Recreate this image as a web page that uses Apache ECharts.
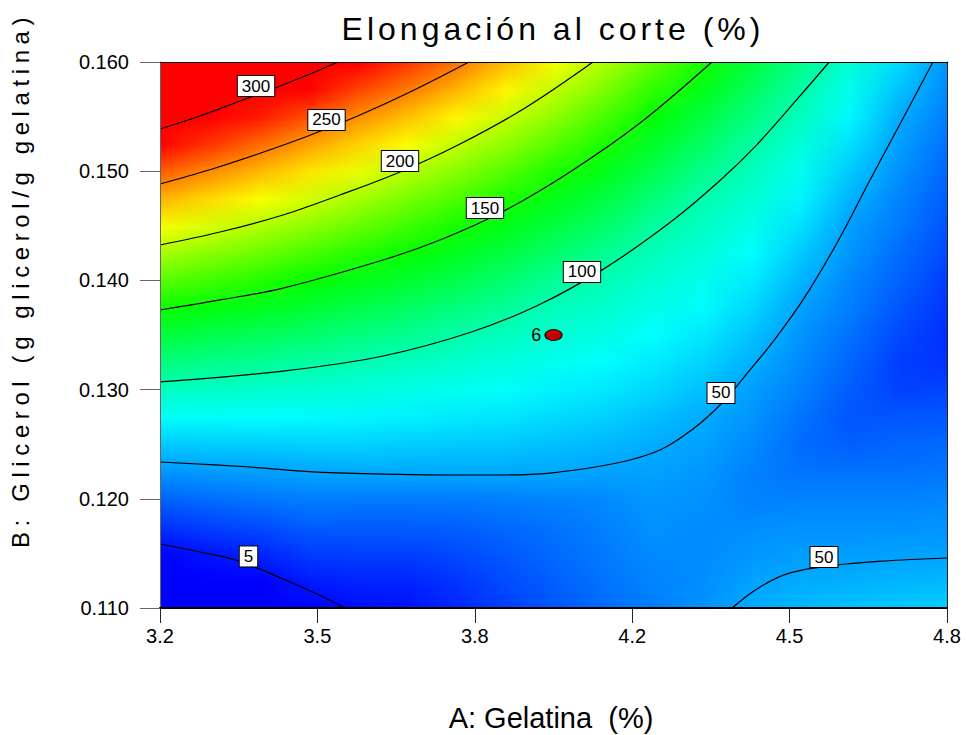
<!DOCTYPE html>
<html>
<head>
<meta charset="utf-8">
<script src="https://cdn.jsdelivr.net/npm/echarts@6/dist/echarts.min.js"></script>
<style>
html, body { margin: 0; padding: 0; background: #fff; }
#chart { width: 966px; height: 735px; }
#chart text { white-space: pre; }
</style>
</head>
<body>
<div id="chart"></div>
<script>
// ---------------- DATA ----------------
// A: Gelatina (%) grid nodes
const gelatina = [3.2, 3.3, 3.4, 3.5, 3.6, 3.7, 3.8, 3.9, 4.0, 4.1, 4.2, 4.3, 4.4, 4.5, 4.6, 4.7, 4.8];
// B: Glicerol grid nodes (bottom to top)
const glicerol = [0.110, 0.1125, 0.115, 0.1175, 0.120, 0.1225, 0.125, 0.1275, 0.130, 0.1325, 0.135,
                  0.1375, 0.140, 0.1425, 0.145, 0.1475, 0.150, 0.1525, 0.155, 0.1575, 0.160];
// Elongación al corte (%) read at each node; one row per glicerol value, one column per gelatina value
const elongacion = [
  [-25, -21, -13, -2, 4, 5, 12, 19, 26, 33, 38, 44, 52, 56, 59, 61, 63],
  [-12, -8, -1, 8, 11, 11, 16, 23, 29, 35, 40, 43, 49, 52, 53, 55, 56],
  [1, 6, 11, 18, 19, 19, 22, 27, 32, 37, 42, 42, 46, 48, 48, 49, 49],
  [15, 20, 23, 28, 28, 28, 29, 32, 35, 39, 44, 42, 43, 44, 44, 44, 45],
  [30, 33, 36, 38, 37, 37, 37, 39, 40, 42, 46, 44, 39, 40, 40, 40, 41],
  [45, 47, 48, 50, 51, 51, 51, 51, 51, 49, 49, 46, 39, 35, 35, 35, 36],
  [61, 62, 62, 63, 63, 62, 61, 60, 58, 56, 52, 49, 42, 33, 29, 31, 32],
  [78, 78, 77, 76, 75, 73, 71, 69, 66, 63, 58, 52, 45, 35, 26, 26, 27],
  [95, 93, 91, 89, 87, 84, 81, 78, 73, 70, 65, 58, 48, 39, 28, 20, 21],
  [114, 110, 107, 103, 99, 95, 91, 86, 81, 77, 71, 64, 53, 42, 31, 19, 15],
  [133, 128, 124, 119, 113, 108, 101, 95, 89, 84, 77, 70, 59, 45, 34, 22, 14],
  [152, 146, 141, 135, 128, 122, 114, 106, 96, 91, 83, 76, 65, 49, 38, 26, 16],
  [173, 166, 159, 150, 143, 136, 128, 118, 106, 98, 90, 82, 71, 54, 41, 30, 18],
  [194, 186, 178, 169, 159, 151, 141, 131, 119, 108, 96, 88, 77, 61, 45, 33, 22],
  [216, 207, 197, 187, 177, 166, 155, 143, 131, 120, 104, 94, 83, 68, 48, 37, 25],
  [238, 228, 217, 206, 194, 182, 170, 157, 143, 131, 115, 100, 90, 74, 54, 40, 28],
  [262, 249, 237, 225, 212, 198, 186, 172, 157, 143, 127, 110, 96, 81, 61, 44, 31],
  [287, 273, 258, 243, 230, 217, 201, 188, 172, 156, 138, 121, 103, 88, 68, 48, 34],
  [312, 297, 281, 265, 248, 235, 220, 203, 187, 169, 149, 132, 113, 95, 75, 52, 38],
  [339, 321, 305, 288, 269, 254, 238, 220, 201, 183, 162, 143, 123, 102, 82, 59, 41],
  [365, 346, 329, 311, 290, 273, 256, 236, 216, 196, 175, 155, 133, 111, 89, 66, 44]
];

// Contour lines [A, B]
const contorno300 = [[3.200, 0.15386], [3.2813, 0.15505], [3.3626, 0.15643], [3.4338, 0.15762], [3.5050, 0.15890], [3.5619, 0.16000]];
const contorno250 = [[3.200, 0.14883], [3.2996, 0.15011], [3.3992, 0.15158], [3.5009, 0.15322], [3.6066, 0.15515], [3.7083, 0.15725], [3.8282, 0.16000]];
const contorno200 = [[3.200, 0.14324], [3.3220, 0.14443], [3.4501, 0.14599], [3.5659, 0.14782], [3.6879, 0.14993], [3.8099, 0.15249], [3.9421, 0.15579], [4.0803, 0.16000]];
const contorno150 = [[3.200, 0.13729], [3.3220, 0.13821], [3.4501, 0.13930], [3.6534, 0.14187], [3.7692, 0.14370], [3.8953, 0.14626], [4.0335, 0.14993], [4.1758, 0.15441], [4.3222, 0.16000]];
const contorno100 = [[3.200, 0.13070], [3.4501, 0.13170], [3.6534, 0.13308], [3.8302, 0.13523], [3.9665, 0.13768], [4.1006, 0.14101], [4.2368, 0.14530], [4.3385, 0.14915], [4.4137, 0.15244], [4.5011, 0.15689], [4.5606, 0.16000]];
const contorno50a = [[3.200, 0.12337], [3.3830, 0.12291], [3.5192, 0.12245], [3.6879, 0.12223], [3.7896, 0.12218], [3.8912, 0.12218], [3.9929, 0.12236], [4.1291, 0.12328], [4.2165, 0.12447], [4.2836, 0.12639], [4.3426, 0.12877], [4.3995, 0.13180], [4.4503, 0.13463], [4.5072, 0.13821], [4.5764, 0.14343], [4.6435, 0.14919], [4.7045, 0.15432], [4.7715, 0.16000]];
const contorno50b = [[4.3629, 0.11000], [4.4198, 0.11192], [4.4808, 0.11321], [4.5764, 0.11394], [4.6699, 0.11430], [4.8000, 0.11458]];
const contorno5 = [[3.200, 0.11586], [3.2813, 0.11513], [3.3606, 0.11430], [3.4501, 0.11266], [3.5192, 0.11128], [3.5761, 0.11000]];

// Contour level labels
const etiquetaTexto = ['300', '250', '200', '150', '100', '50', '50', '5'];
const etiquetaA = [3.3952, 3.5385, 3.6879, 3.8607, 4.0579, 4.3405, 4.5499, 3.3799];
const etiquetaB = [0.15780, 0.15469, 0.15093, 0.14663, 0.14077, 0.12969, 0.11467, 0.11472];

// Design point (centre point, 6 replicates)
const puntoA = [4.0];
const puntoB = [0.135];
const puntoN = ['6'];

// Axis ticks
const ejeX = { min: 3.2, max: 4.8, interval: 0.32 };
const ejeY = { min: 0.110, max: 0.160, interval: 0.01 };

// ---------------- STYLE ----------------
const FONT = '"Liberation Sans", Arial, Helvetica, sans-serif';
const COLOR_VALUES = [0, 77, 150, 218, 288];
const COLOR_RGB = [[0, 0, 255], [0, 255, 255], [0, 255, 0], [255, 255, 0], [255, 0, 0]];

function colorRGB(v) {
  const s = COLOR_VALUES, c = COLOR_RGB;
  if (v <= s[0]) return c[0];
  if (v >= s[s.length - 1]) return c[c.length - 1];
  for (let k = 1; k < s.length; k++) {
    if (v <= s[k]) {
      const t = (v - s[k - 1]) / (s[k] - s[k - 1]);
      return [0, 1, 2].map(n => Math.round(c[k - 1][n] + (c[k][n] - c[k - 1][n]) * t));
    }
  }
  return c[c.length - 1];
}

// Raster of the node colours (one pixel per data node), scaled smoothly by the browser
const heatCache = {};
function heatImage(wPx, hPx) {
  const key = Math.round(wPx) + 'x' + Math.round(hPx);
  if (heatCache[key]) return heatCache[key];
  const nx = gelatina.length, ny = glicerol.length;
  const small = document.createElement('canvas');
  small.width = nx; small.height = ny;
  const sctx = small.getContext('2d');
  const img = sctx.createImageData(nx, ny);
  for (let j = 0; j < ny; j++) {
    for (let i = 0; i < nx; i++) {
      const rgb = colorRGB(elongacion[j][i]);
      const k = ((ny - 1 - j) * nx + i) * 4;
      img.data[k] = rgb[0]; img.data[k + 1] = rgb[1]; img.data[k + 2] = rgb[2]; img.data[k + 3] = 255;
    }
  }
  sctx.putImageData(img, 0, 0);
  const big = document.createElement('canvas');
  big.width = Math.max(1, Math.round(wPx)); big.height = Math.max(1, Math.round(hPx));
  const bctx = big.getContext('2d');
  bctx.imageSmoothingEnabled = true;
  bctx.drawImage(small, 0, 0, big.width, big.height);
  heatCache[key] = big.toDataURL('image/png');
  return heatCache[key];
}

const stepA = gelatina[1] - gelatina[0];
const stepB = glicerol[1] - glicerol[0];

const chart = echarts.init(document.getElementById('chart'), null, { renderer: 'svg', width: 966, height: 735 });

const contornos = [contorno300, contorno250, contorno200, contorno150, contorno100, contorno50a, contorno50b, contorno5];

const lineSeries = contornos.map(pts => ({
  type: 'line',
  data: pts,
  showSymbol: false,
  symbol: 'none',
  smooth: 0.35,
  silent: true,
  z: 3,
  lineStyle: { color: '#000', width: 1.2 },
  clip: true
}));

const option = {
  animation: false,
  textStyle: { fontFamily: FONT },
  grid: { left: 160, top: 62, width: 787, height: 546, outerBoundsMode: 'none', containLabel: false },
  xAxis: [{
    type: 'value', min: ejeX.min, max: ejeX.max, interval: ejeX.interval, position: 'bottom', z: 10,
    axisLine: { show: true, onZero: false, lineStyle: { color: '#000', width: 2 } },
    axisTick: { show: true, length: 15, lineStyle: { color: '#222', width: 1 } },
    axisLabel: { fontSize: 20, color: '#000', margin: 18, fontFamily: FONT, showMinLabel: true, showMaxLabel: true,
                 formatter: v => v.toFixed(1) },
    splitLine: { show: false }
  }, {
    type: 'value', min: ejeX.min, max: ejeX.max, position: 'top', z: 10,
    axisLine: { show: true, onZero: false, lineStyle: { color: '#000', width: 1 } },
    axisTick: { show: false }, axisLabel: { show: false }, splitLine: { show: false }
  }],
  yAxis: [{
    type: 'value', min: ejeY.min, max: ejeY.max, interval: ejeY.interval, position: 'left', z: 10,
    axisLine: { show: true, onZero: false, lineStyle: { color: '#666', width: 1 } },
    axisTick: { show: true, length: 20, lineStyle: { color: '#666', width: 1 } },
    axisLabel: { fontSize: 20, color: '#000', margin: 31, fontFamily: FONT, showMinLabel: true, showMaxLabel: true,
                 formatter: v => v.toFixed(3) },
    splitLine: { show: false }
  }, {
    type: 'value', min: ejeY.min, max: ejeY.max, position: 'right', z: 10,
    axisLine: { show: true, onZero: false, lineStyle: { color: '#222', width: 1 } },
    axisTick: { show: false }, axisLabel: { show: false }, splitLine: { show: false }
  }],
  graphic: [
    { type: 'text', x: 553, y: 29, silent: true,
      style: { text: 'Elongación al corte (%)', fontSize: 32, fontFamily: FONT, fill: '#000',
               textAlign: 'center', textVerticalAlign: 'middle', align: 'center', verticalAlign: 'middle' } },
    { type: 'text', x: 551, y: 718, silent: true,
      style: { text: 'A: Gelatina  (%)', fontSize: 29, fontFamily: FONT, fill: '#000',
               textAlign: 'center', textVerticalAlign: 'middle', align: 'center', verticalAlign: 'middle' } },
    { type: 'text', x: 20, y: 548, rotation: Math.PI / 2, silent: true,
      style: { text: 'B: Glicerol (g glicerol/g gelatina)', fontSize: 24, fontFamily: FONT, fill: '#000',
               textAlign: 'left', textVerticalAlign: 'middle', align: 'left', verticalAlign: 'middle' } }
  ],
  series: [
    {
      type: 'custom',
      xAxisIndex: 0, yAxisIndex: 0,
      silent: true, z: 1, clip: true,
      encode: { x: 0, y: 1 },
      data: [[ejeX.min, ejeY.min]],
      renderItem: function (params, api) {
        const p0 = api.coord([gelatina[0] - stepA / 2, glicerol[glicerol.length - 1] + stepB / 2]);
        const p1 = api.coord([gelatina[gelatina.length - 1] + stepA / 2, glicerol[0] - stepB / 2]);
        const w = p1[0] - p0[0], h = p1[1] - p0[1];
        return {
          type: 'image',
          style: { image: heatImage(w, h), x: p0[0], y: p0[1], width: w, height: h }
        };
      }
    },
    ...lineSeries,
    {
      type: 'scatter',
      silent: true, z: 4,
      symbolSize: 1,
      itemStyle: { color: 'rgba(0,0,0,0)', opacity: 1 },
      data: etiquetaTexto.map((t, i) => [etiquetaA[i], etiquetaB[i], t]),
      label: {
        show: true, position: 'inside', formatter: p => p.value[2], opacity: 1,
        fontSize: 17, fontFamily: FONT, color: '#000',
        backgroundColor: '#fff', borderColor: '#000', borderWidth: 1, padding: [2, 4, 1, 4]
      }
    },
    {
      type: 'scatter',
      silent: true, z: 5,
      symbol: 'circle', symbolSize: [17, 11],
      itemStyle: { color: '#c00000', borderColor: '#000', borderWidth: 1, opacity: 1 },
      data: puntoA.map((a, i) => [a, puntoB[i], puntoN[i]]),
      label: { show: true, position: 'left', distance: 3, formatter: p => p.value[2], opacity: 1,
               fontSize: 18, fontFamily: FONT, color: '#000' }
    }
  ]
};

chart.setOption(option);

function applySpacing() {
  document.querySelectorAll('#chart text').forEach(t => {
    const s = t.textContent || '';
    if (s.indexOf('B: Glicerol') === 0) t.style.letterSpacing = '5.6px';
    else if (s.indexOf('Elongaci') === 0) t.style.letterSpacing = '4px';
  });
  document.querySelectorAll('#chart image').forEach(im => im.setAttribute('preserveAspectRatio', 'none'));
}
applySpacing();
chart.on('finished', applySpacing);
setTimeout(applySpacing, 50);
</script>
</body>
</html>
